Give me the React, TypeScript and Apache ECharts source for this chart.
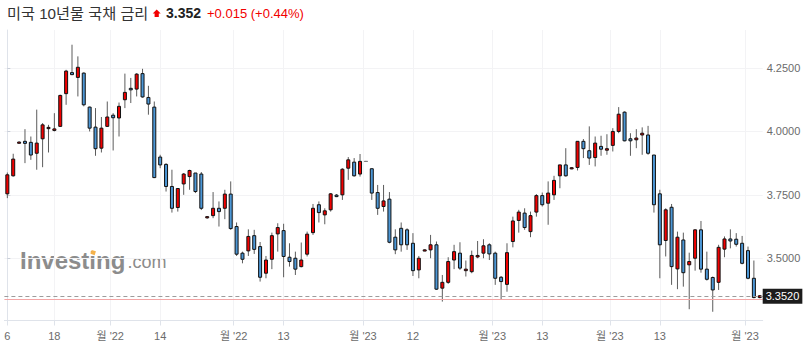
import React, { useEffect, useRef } from "react";
import * as echarts from "echarts";

// ---- data ----
const dates = [
  "2022-10-06","2022-10-07","2022-10-10","2022-10-11","2022-10-12","2022-10-13","2022-10-14","2022-10-17","2022-10-18","2022-10-19","2022-10-20","2022-10-21","2022-10-24","2022-10-25","2022-10-26","2022-10-27","2022-10-28","2022-10-31",
  "2022-11-01","2022-11-02","2022-11-03","2022-11-04","2022-11-07","2022-11-08","2022-11-09","2022-11-10","2022-11-14","2022-11-15","2022-11-16","2022-11-17","2022-11-18","2022-11-21","2022-11-22","2022-11-23","2022-11-24","2022-11-25","2022-11-28","2022-11-29","2022-11-30",
  "2022-12-01","2022-12-02","2022-12-05","2022-12-06","2022-12-07","2022-12-08","2022-12-09","2022-12-12","2022-12-13","2022-12-14","2022-12-15","2022-12-16","2022-12-19","2022-12-20","2022-12-21","2022-12-22","2022-12-23","2022-12-26","2022-12-27","2022-12-28","2022-12-29","2022-12-30",
  "2023-01-02","2023-01-03","2023-01-04","2023-01-05","2023-01-06","2023-01-09","2023-01-10","2023-01-11","2023-01-12","2023-01-13","2023-01-16","2023-01-17","2023-01-18","2023-01-19","2023-01-20","2023-01-23","2023-01-24","2023-01-25","2023-01-26","2023-01-27","2023-01-30","2023-01-31",
  "2023-02-01","2023-02-02","2023-02-03","2023-02-06","2023-02-07","2023-02-08","2023-02-09","2023-02-10","2023-02-13","2023-02-14","2023-02-15","2023-02-16","2023-02-17","2023-02-20","2023-02-21","2023-02-22","2023-02-23","2023-02-24","2023-02-27","2023-02-28",
  "2023-03-01","2023-03-02","2023-03-03","2023-03-06","2023-03-07","2023-03-08","2023-03-09","2023-03-10","2023-03-13","2023-03-14","2023-03-15","2023-03-16","2023-03-17","2023-03-20","2023-03-21","2023-03-22","2023-03-23","2023-03-24","2023-03-27","2023-03-28","2023-03-29","2023-03-30","2023-03-31",
  "2023-04-03","2023-04-04","2023-04-05",
];

const opens = [
  3.754,3.825,3.955,3.961,3.957,3.914,3.971,4.011,4.004,4.020,4.149,4.232,4.213,4.230,4.096,4.017,3.934,4.020,
  4.064,4.053,4.125,4.170,4.167,4.228,4.134,4.096,3.899,3.870,3.783,3.700,3.793,3.822,3.836,3.832,3.660,3.668,3.697,3.697,3.753,
  3.625,3.520,3.529,3.589,3.546,3.441,3.496,3.596,3.609,3.504,3.500,3.467,3.516,3.601,3.711,3.671,3.691,3.749,3.750,3.855,3.879,3.832,
  3.882,3.853,3.759,3.704,3.733,3.583,3.618,3.612,3.559,3.454,3.530,3.533,3.553,3.382,3.405,3.493,3.520,3.451,3.447,3.505,3.520,3.553,
  3.520,3.425,3.397,3.566,3.649,3.678,3.605,3.682,3.747,3.717,3.750,3.825,3.868,3.853,3.858,3.961,3.924,3.897,3.941,3.926,
  3.945,4.000,4.076,3.971,3.967,3.986,3.986,3.907,3.754,3.570,3.701,3.458,3.572,3.474,3.500,3.612,3.457,3.424,3.405,3.536,3.576,3.575,3.559,
  3.530,3.421,3.345,
];
const closes = [
  3.829,3.891,3.958,3.953,3.907,3.954,4.026,4.016,4.010,4.142,4.238,4.224,4.253,4.105,4.013,3.932,4.013,4.057,
  4.054,4.099,4.154,4.164,4.226,4.136,4.108,3.818,3.868,3.783,3.697,3.775,3.832,3.846,3.763,3.697,3.664,3.697,3.684,3.753,3.617,
  3.516,3.496,3.586,3.535,3.425,3.493,3.589,3.621,3.507,3.487,3.457,3.493,3.595,3.697,3.680,3.687,3.754,3.743,3.851,3.888,3.825,3.882,
  3.882,3.757,3.697,3.726,3.563,3.533,3.553,3.553,3.451,3.500,3.533,3.553,3.378,3.405,3.487,3.526,3.461,3.457,3.511,3.511,3.549,3.517,
  3.421,3.408,3.522,3.647,3.682,3.621,3.668,3.747,3.711,3.757,3.807,3.868,3.825,3.857,3.961,3.932,3.895,3.954,3.930,3.932,
  4.000,4.068,3.963,3.963,3.974,3.993,3.914,3.711,3.553,3.691,3.467,3.583,3.443,3.487,3.612,3.457,3.417,3.375,3.543,3.576,3.568,3.555,3.480,
  3.421,3.345,3.352,
];
const lows = [
  3.737,3.822,3.953,3.875,3.888,3.849,3.859,3.917,4.000,4.018,4.105,4.222,4.138,4.099,4.000,3.904,3.917,4.018,
  3.925,3.980,4.092,4.112,4.138,4.133,4.066,3.816,3.855,3.763,3.680,3.684,3.750,3.770,3.757,3.690,3.656,3.658,3.625,3.654,3.612,
  3.509,3.480,3.509,3.517,3.408,3.421,3.457,3.526,3.425,3.467,3.434,3.464,3.507,3.592,3.641,3.634,3.684,3.741,3.730,3.809,3.822,3.822,
  3.880,3.730,3.671,3.684,3.559,3.516,3.526,3.533,3.430,3.421,3.528,3.500,3.375,3.329,3.399,3.457,3.454,3.428,3.441,3.500,3.500,3.493,
  3.395,3.338,3.368,3.543,3.601,3.612,3.583,3.664,3.704,3.632,3.730,3.776,3.822,3.851,3.846,3.895,3.868,3.862,3.904,3.908,
  3.921,3.993,3.961,3.904,3.934,3.908,3.908,3.680,3.421,3.507,3.395,3.378,3.388,3.299,3.451,3.443,3.412,3.289,3.375,3.504,3.539,3.546,3.476,
  3.417,3.342,3.342,
];
const highs = [
  3.838,3.912,3.961,4.009,3.980,4.086,4.033,4.026,4.072,4.145,4.243,4.342,4.296,4.233,4.098,4.092,4.057,4.118,
  4.072,4.114,4.228,4.211,4.230,4.247,4.180,4.118,3.908,3.875,3.849,3.776,3.836,3.849,3.836,3.840,3.666,3.761,3.724,3.770,3.803,
  3.641,3.526,3.614,3.612,3.564,3.509,3.601,3.638,3.636,3.559,3.526,3.562,3.605,3.714,3.724,3.697,3.757,3.753,3.855,3.899,3.895,3.911,
  3.884,3.853,3.789,3.789,3.761,3.614,3.641,3.618,3.599,3.509,3.535,3.592,3.566,3.434,3.504,3.553,3.563,3.491,3.530,3.568,3.575,3.559,
  3.526,3.430,3.559,3.664,3.691,3.697,3.684,3.753,3.759,3.803,3.825,3.868,3.934,3.859,3.961,3.970,4.020,3.980,3.983,3.989,
  4.013,4.096,4.079,3.993,4.009,4.016,4.022,3.907,3.770,3.697,3.714,3.605,3.601,3.522,3.614,3.647,3.526,3.428,3.553,3.586,3.614,3.599,3.588,
  3.546,3.491,3.355,
];

// x tick labels: anchored on a date (mid-month) or on a month start (placed at the boundary)
const xTickDates = ["2022-10-06","2022-10-18","2022-11-01","2022-11-14","2022-12-01","2022-12-13","2023-01-02","2023-01-12","2023-02-01","2023-02-13","2023-03-01","2023-03-13","2023-04-03"];
const xTickLabels = ["6","18","월 '22","14","월 '22","13","월 '23","12","월 '23","13","월 '23","13","월 '23"];
const xTickIsMonth = [false,false,true,false,true,false,true,false,true,false,true,false,true];

const yTickValues = [3.5, 3.75, 4.0, 4.25];

const TITLE = "미국 10년물 국채 금리";
const LAST_PRICE = 3.352;
const PREV_CLOSE = 3.338;
const CHANGE_TEXT = "+0.015 (+0.44%)";

const RED = "#f20000";
const BLUE = "#4c97d6";
const FONT = "'Liberation Sans', 'Noto Sans CJK KR', sans-serif";

export default function App() {
  const ref = useRef<HTMLDivElement>(null);

  useEffect(() => {
    const chart = echarts.init(ref.current!, null, { renderer: "svg" });

    const tickPos = xTickDates.map((d, i) => dates.indexOf(d) - (xTickIsMonth[i] ? 0.5 : 0));
    const labelAt = (v: number) => {
      const k = tickPos.findIndex((p) => Math.abs(p - v) < 1e-6);
      return k >= 0 ? xTickLabels[k] : "";
    };

    const seriesData = dates.map((_, i) => [i, opens[i], closes[i], lows[i], highs[i]]);

    const option: any = {
      animation: false,
      backgroundColor: "#ffffff",
      grid: { left: 4.4, right: 47.3, top: 30, bottom: 32.5, outerBoundsMode: "none" },
      xAxis: [
        {
          type: "category",
          data: dates,
          boundaryGap: true,
          axisLine: { show: false },
          axisTick: { show: false },
          axisLabel: { show: false },
          splitLine: { show: false },
        },
        {
          type: "value",
          position: "bottom",
          min: -0.5,
          max: dates.length - 0.5,
          axisLine: { show: true, lineStyle: { color: "#dfe3ea", width: 1 } },
          axisTick: { show: true, length: 5, customValues: tickPos, lineStyle: { color: "#dfe3ea" } },
          axisLabel: {
            show: true,
            customValues: tickPos,
            formatter: (v: number) => labelAt(v),
            color: "#6b6b6b",
            fontSize: 11,
            fontFamily: FONT,
            margin: 10,
          },
          splitLine: { show: true, lineStyle: { color: "#f3f3f5", width: 1 } },
        },
      ],
      yAxis: {
        type: "value",
        position: "right",
        min: 3.2545,
        max: 4.4,
        scale: true,
        axisLine: { show: true, lineStyle: { color: "#dfe3ea", width: 1 } },
        axisTick: { show: true, length: 3, customValues: yTickValues, lineStyle: { color: "#c9ced8" } },
        axisLabel: {
          show: true,
          customValues: yTickValues,
          formatter: (v: number) => v.toFixed(4),
          color: "#6b6b6b",
          fontSize: 11,
          fontFamily: FONT,
          margin: 4,
        },
        splitLine: { show: true, lineStyle: { color: "#f3f3f5", width: 1 } },
      },
      series: [
        {
          type: "custom",
          xAxisIndex: 0,
          yAxisIndex: 0,
          encode: { x: 0, y: [1, 2, 3, 4] },
          data: seriesData,
          renderItem: (params: any, api: any) => {
            const i = api.value(0);
            const o = api.value(1);
            const c = api.value(2);
            const l = api.value(3);
            const h = api.value(4);
            const pO = api.coord([i, o]);
            const x = pO[0];
            const yO = pO[1];
            const yC = api.coord([i, c])[1];
            const yL = api.coord([i, l])[1];
            const yH = api.coord([i, h])[1];
            const up = c > o;
            const flat = c === o;
            const top = Math.min(yO, yC);
            const hgt = Math.max(Math.abs(yO - yC), 1.2);
            const children: any[] = [
              {
                type: "line",
                shape: { x1: x, y1: yH, x2: x, y2: yL },
                style: { stroke: "#5c5c5c", lineWidth: 1 },
              },
            ];
            if (flat) {
              children.push({
                type: "line",
                shape: { x1: x - 2, y1: yO, x2: x + 2, y2: yO },
                style: { stroke: "#777", lineWidth: 1 },
              });
            } else {
              children.push({
                type: "rect",
                shape: { x: x - 1.5, y: top, width: 3, height: hgt },
                style: { fill: up ? RED : BLUE, stroke: "#111", lineWidth: 1 },
              });
            }
            return { type: "group", children };
          },
          markLine: {
            silent: true,
            symbol: ["none", "none"],
            animation: false,
            data: [
              {
                yAxis: PREV_CLOSE,
                lineStyle: { color: "#f4a6a6", type: "solid", width: 1 },
                label: { show: false },
              },
              {
                yAxis: LAST_PRICE,
                lineStyle: { color: "#9c9c9c", type: [4, 3], width: 1 },
                label: {
                  show: true,
                  position: "end",
                  distance: 0,
                  formatter: () => LAST_PRICE.toFixed(4),
                  backgroundColor: "#1c1c1c",
                  color: "#ffffff",
                  fontSize: 11,
                  fontFamily: FONT,
                  lineHeight: 12,
                  padding: [2, 3, 1, 3],
                },
              },
            ],
          },
        },
      ],
      graphic: [
        {
          type: "text",
          x: 7,
          y: 13,
          style: { text: TITLE, fill: "#333333", font: `15.2px ${FONT}`, verticalAlign: "middle" },
        },
        {
          type: "polygon",
          shape: {
            points: [
              [156.7, 9.6],
              [160.7, 13.6],
              [158.8, 13.6],
              [158.8, 17],
              [154.6, 17],
              [154.6, 13.6],
              [152.7, 13.6],
            ],
          },
          style: { fill: RED },
        },
        {
          type: "text",
          x: 166,
          y: 13,
          style: { text: LAST_PRICE.toFixed(3), fill: "#222222", font: `bold 14px ${FONT}`, verticalAlign: "middle" },
        },
        {
          type: "text",
          x: 207,
          y: 13,
          style: { text: CHANGE_TEXT, fill: RED, font: `13px ${FONT}`, verticalAlign: "middle" },
        },
        {
          type: "text",
          x: 20,
          y: 260.5,
          style: { text: "Investing", fill: "#8c8c8c", font: `bold 24px ${FONT}`, verticalAlign: "middle" },
        },
        {
          type: "text",
          x: 127.5,
          y: 262.3,
          style: { text: ".com", fill: "#8c8c8c", font: `18px ${FONT}`, verticalAlign: "middle" },
        },
        {
          type: "rect",
          x: 93.2,
          y: 252.6,
          rotation: -0.3,
          shape: { x: -2.2, y: -2, width: 4.4, height: 4 },
          style: { fill: "#f5b24a" },
        },
      ],
    };

    chart.setOption(option);
    return () => chart.dispose();
  }, []);

  return (
    <div
      ref={ref}
      style={{ position: "fixed", left: 0, top: 0, width: 810, height: 353, background: "#fff" }}
    />
  );
}
